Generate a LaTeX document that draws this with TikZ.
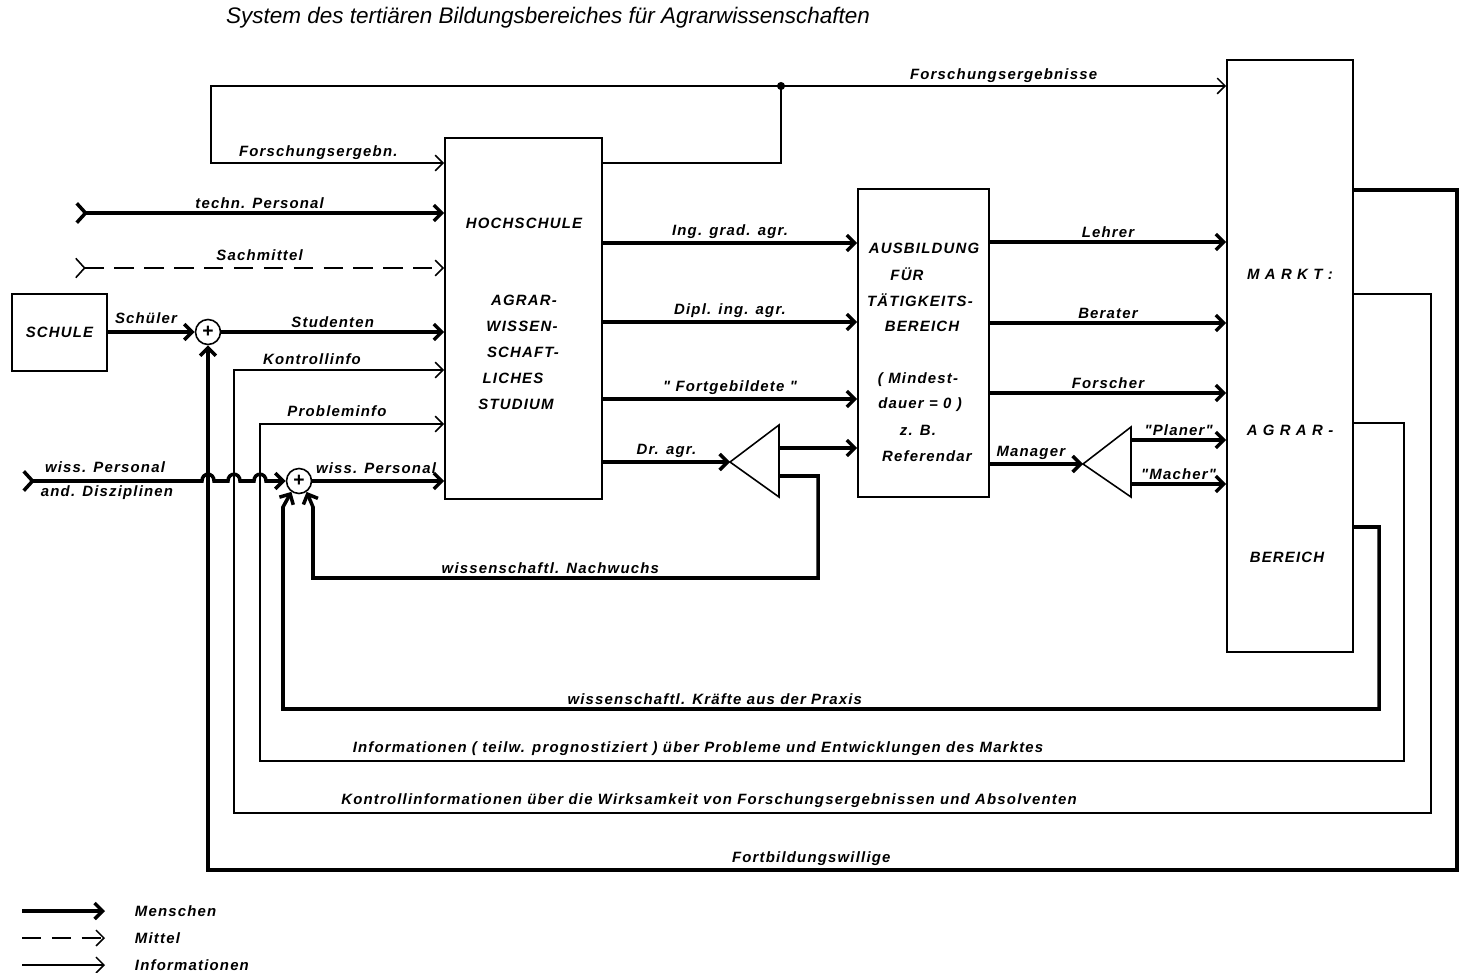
\documentclass[tikz,border=0pt]{standalone}
\usepackage{fontspec}
\setmainfont{Liberation Sans}
\newfontfamily\lblfamily[LetterSpace=8]{Liberation Sans}
\newcommand{\lblfont}{\lblfamily\bfseries\itshape\fontsize{8.5}{9.5}\selectfont}
\usetikzlibrary{arrows.meta}

\tikzset{>={Straight Barb[length=4.5pt,width=9pt]}}

\begin{document}
\begin{tikzpicture}[
  x=0.02cm, y=-0.02cm,
  font=\lblfont,
  men/.style={line width=2pt, ->},
  inf/.style={line width=0.9pt, ->},
  mit/.style={inf, dash pattern=on 11pt off 6pt},
  tailarr/.style={arrows={Straight Barb[reversed,length=5pt,width=11pt]-Straight Barb[length=4.5pt,width=9pt]}},
  blk/.style={draw, line width=0.9pt, inner sep=0pt},
  sum/.style={circle, draw, line width=0.9pt, minimum size=0.5cm, inner sep=0pt, font=\bfseries\fontsize{11}{11}\selectfont},
  lbl/.style={inner sep=1.5pt},
]
\useasboundingbox (0,0) rectangle (1461,973);

% title
\node[font=\itshape\fontsize{12.8}{13}\selectfont] (title) at (548,18) {System des tertiären Bildungsbereiches für Agrarwissenschaften};

% blocks
\node[blk, minimum width=1.9cm, minimum height=1.54cm] (schule) at (59.5,332.5) {SCHULE};
\node[blk, minimum width=3.14cm, minimum height=7.22cm] (hs) at (523.5,318.5) {};
\node[blk, minimum width=2.62cm, minimum height=6.16cm] (aus) at (923.5,343) {};
\node[blk, minimum width=2.52cm, minimum height=11.84cm] (markt) at (1290,356) {};
\node[sum] (s1) at (208,332) {+};
\node[sum] (s2) at (299,481) {+};

% block texts
\node at (524,223) {HOCHSCHULE};
\foreach \t/\x [count=\i] in {AGRAR-/524,WISSEN-/522,SCHAFT-/523,LICHES/513,STUDIUM/516}
  \node at (\x,274+26*\i) {\t};
\foreach \t/\x [count=\i] in {AUSBILDUNG/924,FÜR/907,TÄTIGKEITS-/920,BEREICH/922}
  \node at (\x,222+26*\i) {\t};
\foreach \t/\x [count=\i] in {{( Mindest-}/918,{dauer = 0 )}/920,{z. B.}/918,Referendar/927}
  \node at (\x,354+25.5*\i) {\t};
\node at (1290,274) {M A R K T :};
\node at (1290,430) {A G R A R -};
\node at (1287,557) {BEREICH};

% levels and corners
\foreach \n/\y in {yfe/163, ykt/370, ypt/424, yig/243, ydi/322, yfg/399, ydr/462,
                   ylh/242, ybe/323, yfo/393, ymg/464, ypl/440, ymc/484,
                   yfw/190, ykr/294, ypr/423, yxr/527, yv1/448, yv1n/476}
  \coordinate (\n) at (0,\y);
\coordinate (fdot) at (781,86);
\coordinate (fl) at (211,86);
\coordinate (fwc) at (1457,870); \coordinate (fwl) at (208,870);
\coordinate (kc) at (1431,813);  \coordinate (kl) at (234,813);
\coordinate (pc) at (1404,761);  \coordinate (pl) at (260,761);
\coordinate (xc) at (1379,709);  \coordinate (xl) at (283,709); \coordinate (xb) at (283,507);
\coordinate (nr) at (818,578);   \coordinate (nl) at (313,578); \coordinate (nb) at (313,507);
\coordinate (v1t) at (730,462);  \coordinate (v1o) at (779,425); \coordinate (v1u) at (779,497);
\coordinate (v2t) at (1083,464); \coordinate (v2o) at (1131,427); \coordinate (v2u) at (1131,497);
\coordinate (tpa) at (75,213);   \coordinate (sma) at (75,268); \coordinate (wpa) at (22,481);

% research results
\draw[line width=0.9pt] (hs.east |- yfe) -| (fdot);
\draw[inf] (fdot) -- (fdot -| markt.west) node[midway,above,lbl]{Forschungsergebnisse};
\draw[inf] (fdot) -- (fl) |- (hs.west |- yfe) node[pos=0.73,above,lbl]{Forschungsergebn.};
\fill (fdot) circle[radius=2.3pt];

% inputs
\draw[line width=2pt, tailarr] (tpa) -- (hs.west |- tpa) node[midway,above,lbl]{techn. Personal};
\draw[mit, tailarr] (sma) -- (hs.west |- sma) node[midway,above=2pt,lbl]{Sachmittel};
\draw[men] (schule.east |- s1) -- (s1);
\node[lbl] at (146,318) {Schüler};
\draw[men] (s1) -- (s1 -| hs.west) node[midway,above,lbl]{Studenten};
\draw[line width=2pt, tailarr] (wpa) \foreach \x in {208,234,260}{ -- (\x-6,481) .. controls (\x-6,472) and (\x+6,472) .. (\x+6,481)} -- (s2);
\node[lbl] at (105,467) {wiss. Personal};
\node[lbl] at (107,493) {and. Disziplinen};
\draw[men] (s2) -- (s2 -| hs.west);
\node[lbl] at (376,468) {wiss. Personal};

% feedback from the market
\draw[men] (markt.east |- yfw) -| (fwc) -- (fwl) node[pos=0.517,above,lbl]{Fortbildungswillige} -- (s1);
\draw[inf] (markt.east |- ykr) -| (kc) -- (kl) |- (hs.west |- ykt);
\node[lbl] at (709,801) {Kontrollinformationen über die Wirksamkeit von Forschungsergebnissen und Absolventen};
\node[lbl] at (312,359) {Kontrollinfo};
\draw[inf] (markt.east |- ypr) -| (pc) -- (pl) |- (hs.west |- ypt);
\node[lbl] at (698,749) {Informationen ( teilw. prognostiziert ) über Probleme und Entwicklungen des Marktes};
\node[lbl] at (337,411) {Probleminfo};
\draw[men] (markt.east |- yxr) -| (xc) -- (xl) node[pos=0.606,above,lbl]{wissenschaftl. Kräfte aus der Praxis} -- (xb) -- (s2.235);

% graduates
\draw[men] (hs.east |- yig) -- (aus.west |- yig) node[midway,above,lbl]{Ing. grad. agr.};
\draw[men] (hs.east |- ydi) -- (aus.west |- ydi) node[midway,above,lbl]{Dipl. ing. agr.};
\draw[men] (hs.east |- yfg) -- (aus.west |- yfg) node[midway,above,lbl]{" Fortgebildete "};
\draw[men] (hs.east |- ydr) -- (v1t) node[midway,above,lbl]{Dr. agr.};
\draw[line width=0.9pt] (v1t) -- (v1o) -- (v1u) -- cycle;
\draw[men] (v1o |- yv1) -- (aus.west |- yv1);
\draw[men] (v1u |- yv1n) -- (nr |- yv1n) -- (nr) -- (nl) node[pos=0.53,above,lbl]{wissenschaftl. Nachwuchs} -- (nb) -- (s2.305);

% into the market
\draw[men] (aus.east |- ylh) -- (markt.west |- ylh) node[midway,above,lbl]{Lehrer};
\draw[men] (aus.east |- ybe) -- (markt.west |- ybe) node[midway,above,lbl]{Berater};
\draw[men] (aus.east |- yfo) -- (markt.west |- yfo) node[midway,above,lbl]{Forscher};
\draw[men] (aus.east |- ymg) -- (v2t) node[pos=0.44,above,lbl]{Manager};
\draw[line width=0.9pt] (v2t) -- (v2o) -- (v2u) -- cycle;
\draw[men] (v2o |- ypl) -- (markt.west |- ypl) node[midway,above,lbl]{"Planer"};
\draw[men] (v2o |- ymc) -- (markt.west |- ymc) node[midway,above,lbl]{"Macher"};

% legend
\foreach \st/\t [count=\i] in {men/Menschen, mit/Mittel, inf/Informationen}{
  \coordinate (lg\i) at (22,884+27*\i);
  \draw[\st] (lg\i) -- ++(83,0);
  \node[lbl, anchor=west] at (132,884+27*\i) {\t};
}
\end{tikzpicture}
\end{document}
